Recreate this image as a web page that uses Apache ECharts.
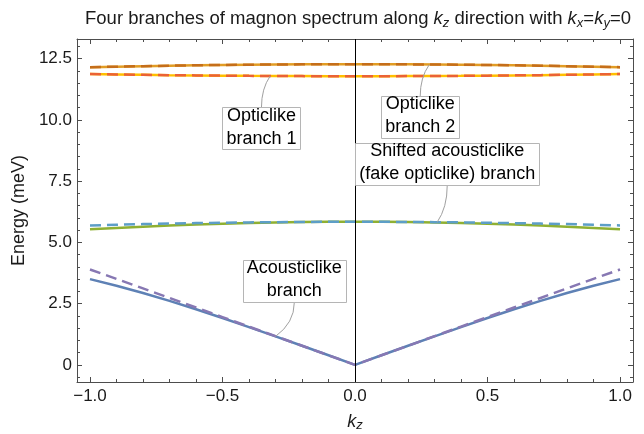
<!DOCTYPE html>
<html>
<head>
<meta charset="utf-8">
<script src="https://cdn.jsdelivr.net/npm/echarts@6/dist/echarts.min.js"></script>
<style>
  html, body { margin: 0; padding: 0; background: #fff; }
  #charts { width: 644px; height: 434px; }
</style>
</head>
<body>
<div id="charts"></div>
<script>
// k_z sample points
var kz = [-1.0, -0.9, -0.8, -0.7, -0.6, -0.5, -0.4, -0.3, -0.2, -0.1, 0,
          0.1, 0.2, 0.3, 0.4, 0.5, 0.6, 0.7, 0.8, 0.9, 1.0];

// energies (meV)
var acousticSolid  = [3.50, 3.23, 2.93, 2.61, 2.27, 1.91, 1.54, 1.16, 0.78, 0.39, 0,
                      0.39, 0.78, 1.16, 1.54, 1.91, 2.27, 2.61, 2.93, 3.23, 3.50];
var acousticDashed = [3.89, 3.51, 3.12, 2.73, 2.34, 1.95, 1.56, 1.17, 0.78, 0.39, 0,
                      0.39, 0.78, 1.17, 1.56, 1.95, 2.34, 2.73, 3.12, 3.51, 3.89];
var shiftedSolid   = [5.53, 5.585, 5.64, 5.685, 5.725, 5.76, 5.79, 5.81, 5.828, 5.837, 5.84,
                      5.837, 5.828, 5.81, 5.79, 5.76, 5.725, 5.685, 5.64, 5.585, 5.53];
var shiftedDashed  = [5.69, 5.72, 5.745, 5.765, 5.785, 5.80, 5.815, 5.825, 5.833, 5.838, 5.84,
                      5.838, 5.833, 5.825, 5.815, 5.80, 5.785, 5.765, 5.745, 5.72, 5.69];
var opticUpper     = [12.15, 12.17, 12.19, 12.21, 12.23, 12.24, 12.25, 12.26, 12.265, 12.27, 12.27,
                      12.27, 12.265, 12.26, 12.25, 12.24, 12.23, 12.21, 12.19, 12.17, 12.15];
var opticLower     = [11.87, 11.855, 11.84, 11.825, 11.815, 11.805, 11.795, 11.79, 11.785, 11.78, 11.78,
                      11.78, 11.785, 11.79, 11.795, 11.805, 11.815, 11.825, 11.84, 11.855, 11.87];

// ticks
var xMajor = [-1.0, -0.5, 0, 0.5, 1.0];
var xMinor = [-1.0, -0.9, -0.8, -0.7, -0.6, -0.5, -0.4, -0.3, -0.2, -0.1, 0,
              0.1, 0.2, 0.3, 0.4, 0.5, 0.6, 0.7, 0.8, 0.9, 1.0];
var yMajor = [0, 2.5, 5.0, 7.5, 10.0, 12.5];
var yMinor = [-0.5, 0, 0.5, 1, 1.5, 2, 2.5, 3, 3.5, 4, 4.5, 5, 5.5, 6, 6.5, 7, 7.5, 8, 8.5,
              9, 9.5, 10, 10.5, 11, 11.5, 12, 12.5, 13];

// callouts: text, point on curve, label centre (data coords)
var noteText   = ['Opticlike\nbranch 1', 'Opticlike\nbranch 2',
                  'Shifted acousticlike\n(fake opticlike) branch', 'Acousticlike\nbranch'];
var noteAnchor = [[-0.32, 11.79], [0.28, 12.25], [0.31, 5.82], [-0.30, 1.16]];
var noteBox    = [[-0.353, 9.65], [0.246, 10.12], [0.348, 8.2], [-0.229, 3.44]];

var FONT = '"Liberation Sans", Arial, sans-serif';
var FRAME = '#4d4d4d';

function pairs(vals) {
  return kz.map(function (k, i) { return [k, vals[i]]; });
}
function minus(v, d) {
  var s = Math.abs(v).toFixed(d);
  return v < 0 ? '\u2212' + s : s;
}

var chartDom = document.getElementById('charts');
var myChart = echarts.init(chartDom, null, { renderer: 'canvas' });

function solid(name, vals, color) {
  return {
    name: name, type: 'line', data: pairs(vals), symbol: 'none', smooth: false,
    xAxisIndex: 0, yAxisIndex: 0, silent: true, z: 2,
    lineStyle: { color: color, width: 2.5 }
  };
}
function dashed(name, vals, color) {
  return {
    name: name, type: 'line', data: pairs(vals), symbol: 'none', smooth: false,
    xAxisIndex: 0, yAxisIndex: 0, silent: true, z: 3,
    lineStyle: { color: color, width: 2.5, type: [11, 6] }
  };
}

function xAx(pos, major) {
  return {
    type: 'value', position: pos, min: -1.049, max: 1.049,
    axisLine: { show: major, onZero: false, lineStyle: { color: FRAME, width: 1 } },
    axisTick: { show: true, inside: true, length: major ? 5 : 3,
                customValues: major ? xMajor : xMinor,
                lineStyle: { color: FRAME, width: 1 } },
    axisLabel: { show: false },
    splitLine: { show: false }
  };
}
function yAx(pos, major) {
  return {
    type: 'value', position: pos, min: -0.7, max: 13.3,
    axisLine: { show: major, onZero: false, lineStyle: { color: FRAME, width: 1 } },
    axisTick: { show: true, inside: true, length: major ? 5 : 3,
                customValues: major ? yMajor : yMinor,
                lineStyle: { color: FRAME, width: 1 } },
    axisLabel: { show: false },
    splitLine: { show: false }
  };
}

var xMain = xAx('bottom', true);
xMain.axisLabel = {
  show: true, customValues: xMajor, margin: 6, color: '#1a1a1a',
  fontSize: 17, fontFamily: FONT,
  formatter: function (v) { return minus(v, 1); }
};
xMain.name = '{i|k}{s|z}';
xMain.nameLocation = 'middle';
xMain.nameGap = 30;
xMain.nameTextStyle = {
  rich: {
    i: { fontSize: 18, fontStyle: 'italic', fontFamily: FONT, color: '#1a1a1a', lineHeight: 20 },
    s: { fontSize: 13, fontStyle: 'italic', fontFamily: FONT, color: '#1a1a1a', lineHeight: 10, verticalAlign: 'bottom' }
  }
};

var yMain = yAx('left', true);
yMain.axisLabel = {
  show: true, customValues: yMajor, margin: 5, color: '#1a1a1a',
  fontSize: 17, fontFamily: FONT,
  formatter: function (v) { return v === 0 ? '0' : v.toFixed(1); }
};
yMain.name = 'Energy (meV)';
yMain.nameLocation = 'middle';
yMain.nameGap = 49;
yMain.nameTextStyle = { fontSize: 18, fontFamily: FONT, color: '#1a1a1a' };

var series = [
  solid('Acousticlike', acousticSolid, '#5E81B5'),
  solid('Shifted acousticlike', shiftedSolid, '#8FB032'),
  solid('Opticlike 2', opticUpper, '#E19C24'),
  solid('Opticlike 1', opticLower, '#FFBF00'),
  dashed('Acousticlike (dashed)', acousticDashed, '#8778B3'),
  dashed('Shifted acousticlike (dashed)', shiftedDashed, '#5D9EC7'),
  dashed('Opticlike 2 (dashed)', opticUpper, '#C56E1A'),
  dashed('Opticlike 1 (dashed)', opticLower, '#EB6235')
];
series[0].markLine = {
  silent: true, symbol: 'none', label: { show: false },
  lineStyle: { color: '#000', width: 1, type: 'solid' },
  data: [{ xAxis: 0 }]
};

var option = {
  animation: false,
  backgroundColor: '#fff',
  grid: { left: 77, right: 11, top: 39, bottom: 52, containLabel: false, outerBoundsMode: 'none' },
  xAxis: [xMain, xAx('bottom', false), xAx('top', true), xAx('top', false)],
  yAxis: [yMain, yAx('left', false), yAx('right', true), yAx('right', false)],
  series: series
};
option && myChart.setOption(option);

// title and callouts, placed through the chart's own coordinate conversion
var graphics = [{
  type: 'text', x: 358, y: 19, z: 20,
  style: {
    text: '{n|Four branches of magnon spectrum along }{i|k}{s|z}{n| direction with }{i|k}{s|x}{n|=}{i|k}{s|y}{n|=0}',
    align: 'center', verticalAlign: 'middle',
    rich: {
      n: { fontSize: 18.5, fontFamily: FONT, fill: '#1a1a1a', lineHeight: 22 },
      i: { fontSize: 18.5, fontFamily: FONT, fontStyle: 'italic', fill: '#1a1a1a', lineHeight: 22 },
      s: { fontSize: 13, fontFamily: FONT, fontStyle: 'italic', fill: '#1a1a1a', lineHeight: 11, verticalAlign: 'bottom' }
    }
  }
}];

var ctx = document.createElement('canvas').getContext('2d');
var NOTE_FONT = '18px ' + FONT;
var LH = 23;
ctx.font = NOTE_FONT;
function px(p) { return myChart.convertToPixel({ xAxisIndex: 0, yAxisIndex: 0 }, p); }

noteText.forEach(function (t, i) {
  var a = px(noteAnchor[i]);
  var b = px(noteBox[i]);
  var lines = t.split('\n');
  var w = Math.max.apply(null, lines.map(function (l) { return ctx.measureText(l).width; })) + 8;
  var h = lines.length * LH - 4;
  var bx = Math.round(b[0] - w / 2) + 0.5;
  var by = Math.round(b[1] - h / 2) + 0.5;
  var edgeY = a[1] < b[1] ? by : by + h;
  graphics.push({
    type: 'bezierCurve', z: 20, silent: true,
    shape: { x1: a[0], y1: a[1], x2: b[0], y2: edgeY, cpx1: b[0], cpy1: a[1] + (edgeY - a[1]) * 0.4 },
    style: { stroke: '#a0a0a0', lineWidth: 1, fill: null }
  });
  graphics.push({
    type: 'rect', z: 21, silent: true,
    shape: { x: bx, y: by, width: Math.round(w), height: h },
    style: { fill: '#fff', stroke: '#b5b5b5', lineWidth: 1 }
  });
  graphics.push({
    type: 'text', z: 22, silent: true, x: b[0], y: b[1] - 1,
    style: { text: t, align: 'center', verticalAlign: 'middle', font: NOTE_FONT, lineHeight: LH, fill: '#000' }
  });
});

myChart.setOption({ graphic: graphics });
</script>
</body>
</html>
